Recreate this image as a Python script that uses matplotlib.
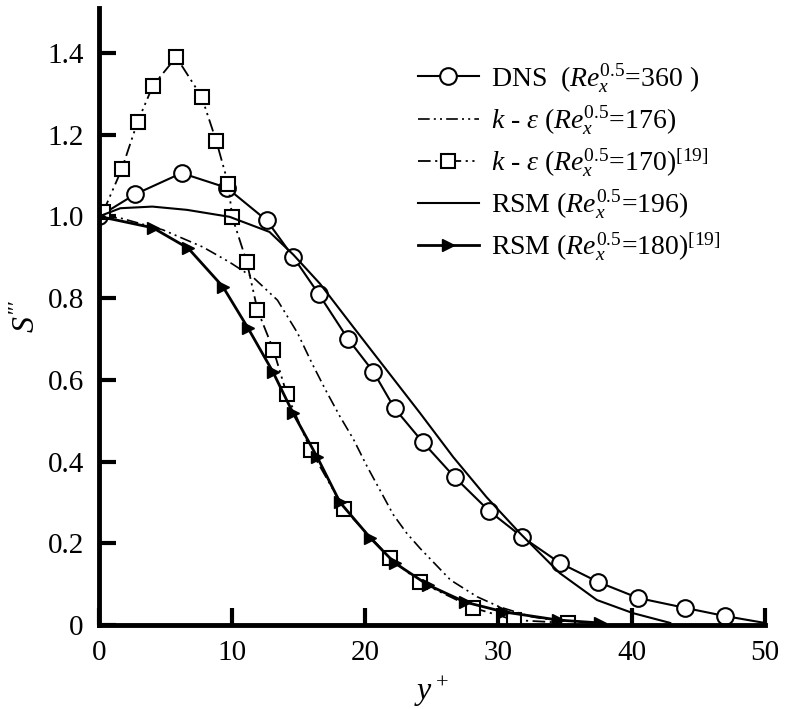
import matplotlib
matplotlib.use("Agg")
import matplotlib.pyplot as plt

plt.rcParams['font.family'] = ['Liberation Serif', 'DejaVu Serif']
plt.rcParams['mathtext.fontset'] = 'custom'
plt.rcParams['mathtext.rm'] = 'Liberation Serif'
plt.rcParams['mathtext.it'] = 'Liberation Serif:italic'
plt.rcParams['mathtext.bf'] = 'Liberation Serif:bold'

# --- data ---
dns_x = [0, 2.7, 6.2, 9.6, 12.6, 14.6, 16.5, 18.7, 20.6, 22.2, 24.3, 26.7,
         29.3, 31.8, 34.6, 37.5, 40.5, 44.0, 47.0, 50.0]
dns_y = [1.0, 1.054, 1.106, 1.07, 0.99, 0.90, 0.81, 0.70, 0.62, 0.53, 0.448,
         0.362, 0.279, 0.215, 0.152, 0.105, 0.066, 0.042, 0.022, 0.005]

ke176_x = [0, 1.6, 4.8, 7.8, 9.8, 11.6, 13.4, 14.9, 16.0, 17.0, 18.1, 19.1,
           20.1, 21.1, 22.1, 23.1, 24.1, 26.4, 28.4, 30.1, 32.5, 35.5]
ke176_y = [1.0, 0.996, 0.967, 0.925, 0.888, 0.85, 0.795, 0.715, 0.64, 0.576,
           0.51, 0.455, 0.39, 0.33, 0.27, 0.225, 0.188, 0.11, 0.069, 0.044,
           0.02, 0.005]

ke170_x = [0.3, 1.7, 2.9, 4.05, 5.8, 7.7, 8.8, 9.7, 10.0, 11.1, 11.9, 13.1,
           14.1, 15.9, 18.4, 21.85, 24.1, 28.1, 31.2, 35.2]
ke170_y = [1.01, 1.115, 1.232, 1.32, 1.39, 1.293, 1.185, 1.08, 0.999, 0.888,
           0.771, 0.673, 0.565, 0.428, 0.284, 0.164, 0.105, 0.042, 0.012, 0.005]

rsm196_x = [0, 1.6, 4.0, 6.6, 9.8, 12.8, 14.6, 16.6, 19.1, 21.6, 24.1, 26.6,
            29.1, 31.6, 34.6, 37.4, 40.1, 42.9]
rsm196_y = [1.0, 1.02, 1.024, 1.016, 0.999, 0.962, 0.906, 0.835, 0.729, 0.624,
            0.519, 0.411, 0.313, 0.225, 0.127, 0.061, 0.029, 0.005]

rsm180_x = [0, 4.05, 6.7, 9.3, 11.2, 13.05, 14.55, 16.4, 18.1, 20.35, 22.2,
            24.7, 27.5, 30.4, 34.5, 37.6]
rsm180_y = [1.0, 0.972, 0.922, 0.828, 0.726, 0.62, 0.52, 0.41, 0.30, 0.214,
            0.152, 0.098, 0.056, 0.032, 0.012, 0.005]

labels = [r"DNS  ($Re_x^{0.5}$=360 )",
          r"$k$ - $\varepsilon$ ($Re_x^{0.5}$=176)",
          r"$k$ - $\varepsilon$ ($Re_x^{0.5}$=170)$^{\mathrm{[19]}}$",
          r"RSM ($Re_x^{0.5}$=196)",
          r"RSM ($Re_x^{0.5}$=180)$^{\mathrm{[19]}}$"]

xticks = [0, 10, 20, 30, 40, 50]
yticks = [0, 0.2, 0.4, 0.6, 0.8, 1.0, 1.2, 1.4]
yticklabels = ["0", "0.2", "0.4", "0.6", "0.8", "1.0", "1.2", "1.4"]

# --- figure ---
fig = plt.figure(figsize=(7.86, 7.09), dpi=100)
ax = fig.add_axes([0.126, 0.1185, 0.847, 0.8702])

ddot = (0, (7, 2.5, 1.2, 2.5, 1.2, 2.5))

l1, = ax.plot(dns_x, dns_y, color='black', lw=1.5, marker='o', ms=12,
              mfc='white', mec='black', mew=1.5, markevery=slice(0, 19))
l2, = ax.plot(ke176_x, ke176_y, color='black', lw=1.2, linestyle=ddot)
l3, = ax.plot(ke170_x, ke170_y, color='black', lw=1.3, linestyle=ddot,
              marker='s', ms=10, mfc='white', mec='black', mew=1.5)
l4, = ax.plot(rsm196_x, rsm196_y, color='black', lw=1.5)
l5, = ax.plot(rsm180_x, rsm180_y, color='black', lw=2.0, marker='>', ms=9,
              mfc='black', mec='black')

ax.set_xlim(0, 50)
ax.set_ylim(0, 1.51)
ax.set_xticks(xticks)
ax.set_yticks(yticks)
ax.set_yticklabels(yticklabels)
ax.tick_params(direction='in', length=12, width=3, labelsize=21, pad=11)

for s in ['top', 'right']:
    ax.spines[s].set_visible(False)
for s in ['left', 'bottom']:
    ax.spines[s].set_linewidth(3.5)

ax.set_ylabel(r"$S'''$", fontsize=23, labelpad=4)
ax.set_xlabel(r"$y^+$", fontsize=23, labelpad=6)

leg = ax.legend([l1, l2, l3, l4, l5], labels, loc='upper left',
                bbox_to_anchor=(0.458, 0.935), frameon=False, fontsize=20,
                handlelength=2.2, handletextpad=0.45, labelspacing=0.33,
                borderpad=0)

fig.savefig("out.png", dpi=100)
